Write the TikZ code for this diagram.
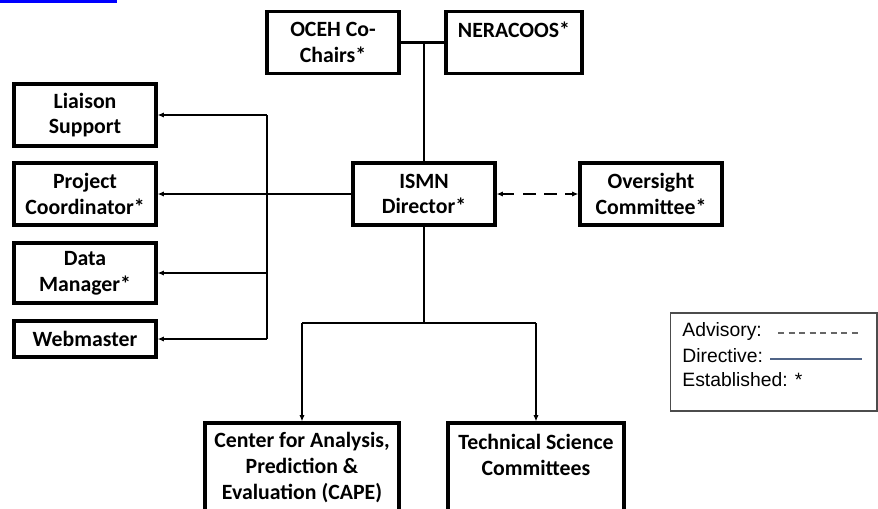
\documentclass[tikz,border=0pt]{standalone}
\usepackage{fontspec}
\setmainfont{Carlito}
\newfontfamily\legendfont{Liberation Sans}
\usepackage{tikz}
\usetikzlibrary{positioning}
\usetikzlibrary{arrows.meta}

\begin{document}
\begin{tikzpicture}[x=0.02cm, y=-0.02cm]
		\tikzset{>={Latex[length=3.5pt,width=3pt]}}
		\tikzset{orgbox/.style={draw=black, line width=1.9pt, align=center, inner sep=0pt,
				font=\fontsize{12.4}{14.7}\selectfont\bfseries, minimum width=2.84cm, minimum height=1.24cm}}
		\tikzset{link/.style={line width=1.6pt, draw=black}}
		\tikzset{legtext/.style={anchor=west, inner sep=0pt, font=\legendfont\fontsize{11}{13}\selectfont}}
		
		\useasboundingbox (0,0) rectangle (878,508);
		\fill[blue] (0,0) rectangle (117,3);
		
		% top row
		\node[orgbox, minimum width=2.64cm] (oceh) at (333,42.5) {OCEH Co-\\Chairs*};
		\node[orgbox, minimum width=2.72cm] (nera) at (514,42.5) {NERACOOS*\\~};
		
		\node[orgbox] (ismn) at (424,194) {ISMN\\Director*};
		\node[orgbox] (over) at (651,194) {Oversight\\Committee*};
		
		% staff column
		\node[orgbox] (liaison) at (85,115) {Liaison\\Support};
		\node[orgbox] (proj) at (85,194) {Project\\Coordinator*};
		\node[orgbox, minimum height=1.2cm] (data) at (85,273) {Data\\Manager*};
		\node[orgbox, minimum height=0.72cm] (web) at (85,339) {Webmaster};
		
		% committees
		\node[orgbox, minimum width=3.88cm, minimum height=1.78cm] (cape) at (302,467.5) {Center for Analysis,\\Prediction \&\\Evaluation (CAPE)};
		\node[orgbox, minimum width=3.52cm, minimum height=1.78cm] (tsc) at (536,467.5) {Technical Science\\Committees\\~};
		
		\coordinate (lbus) at (267,323);
		\coordinate (bbus) at (424,323);
		
		\draw[link] (oceh.east) -- (nera.west);
		\draw[link] (ismn.north) -- (ismn.north |- oceh.east);
		\draw[link, ->] (ismn.west) -- (proj.east);
		\draw[link] (lbus |- liaison.east) -- (lbus |- web.east);
		\foreach \n in {liaison,data,web}
			\draw[link, ->] (lbus |- \n.east) -- (\n.east);
		\draw[link, <->, dash pattern=on 7pt off 5pt] (ismn.east) -- (over.west);
		
		\draw[link] (ismn.south) -- (bbus);
		\draw[link] (cape.north |- bbus) -- (tsc.north |- bbus);
		\foreach \n in {cape,tsc}
			\draw[link, ->] (\n.north |- bbus) -- (\n.north);
		
		% legend
		\node[draw=black!70, line width=0.6pt, minimum width=4.14cm, minimum height=1.96cm, inner sep=0pt] (legend) at (773.5,362) {};
		\node[legtext] (adv) at (682,331) {Advisory:};
		\node[legtext] (dir) at (682,356) {Directive:};
		\node[legtext] (est) at (682,380) {Established: *};
		\coordinate (advA) at (778,333);
		\coordinate (advB) at (862,333);
		\coordinate (dirA) at (770,359);
		\coordinate (dirB) at (862,359);
		\draw[black!60, line width=0.7pt, dash pattern=on 3.5pt off 2.5pt] (advA) -- (advB);
		\draw[color={rgb,255:red,80;green,100;blue,135}, line width=0.8pt] (dirA) -- (dirB);
\end{tikzpicture}
\end{document}
